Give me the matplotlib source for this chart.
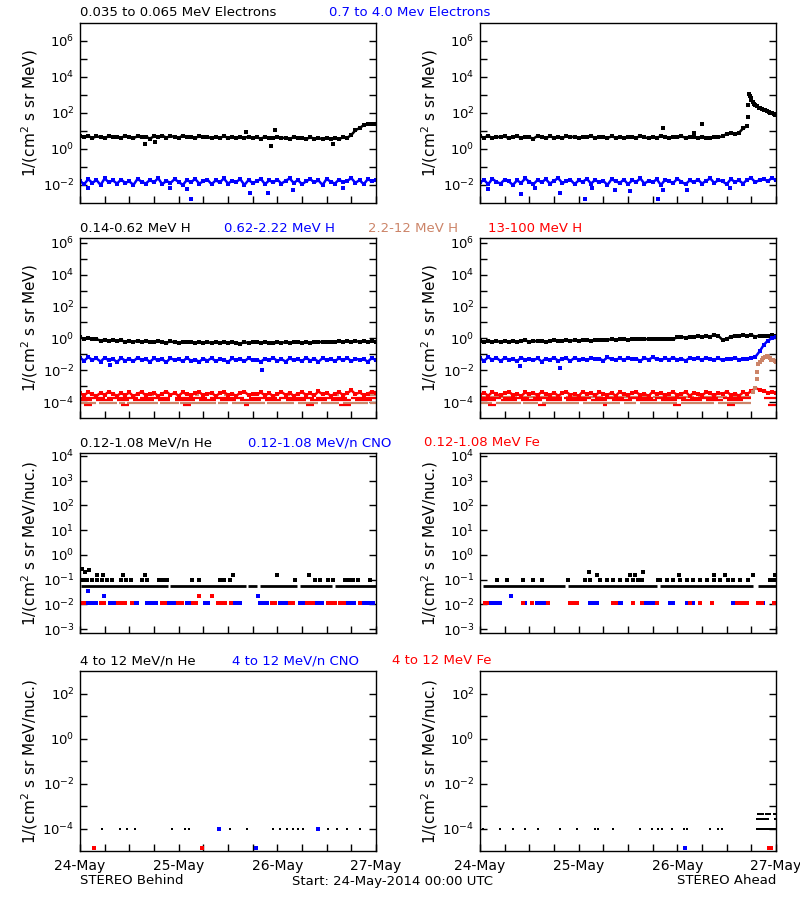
import numpy as np
import matplotlib
matplotlib.use("Agg")
import matplotlib.pyplot as plt

plt.rcParams['font.family'] = 'DejaVu Sans'
plt.rcParams['mathtext.fontset'] = 'dejavusans'

BLUE = '#0000FF'
RED = '#FF0000'
SIENNA = '#CC8468'

# ---------------- data (hours since 24-May-2014 00:00 UTC) ----------------
# Row 1: electrons, hourly samples
e_lo_behind = [5.6, 4.4, 5.2, 4.1, 5.0, 4.6, 3.9, 5.3, 4.5, 4.9,
               4.2, 5.4, 4.7, 4.0, 5.1, 4.4, 4.8, 3.8, 5.0, 4.6,
               5.5, 4.3, 5.2, 4.7, 4.1, 5.6, 4.5, 4.9, 4.2, 5.0,
               4.4, 4.8, 3.9, 4.6, 4.2, 5.0, 4.3, 4.7, 3.9, 4.5,
               4.1, 4.9, 4.0, 4.4, 3.8, 4.7, 4.2, 3.9, 4.6, 4.0,
               4.3, 3.7, 4.5, 3.9, 4.2, 3.6, 4.4, 3.8, 4.1, 3.5,
               4.3, 3.7, 4.0, 3.6, 4.4, 4.2, 6.0, 11.0, 14.5, 21.0,
               26.0, 24.0, 25.0]
e_hi_behind = [0.017, 0.011, 0.021, 0.013, 0.019, 0.010, 0.023, 0.014, 0.018, 0.012,
               0.020, 0.013, 0.016, 0.010, 0.022, 0.015, 0.012, 0.019, 0.014, 0.024,
               0.011, 0.017, 0.013, 0.021, 0.015, 0.010, 0.019, 0.014, 0.022, 0.012,
               0.016, 0.020, 0.011, 0.018, 0.014, 0.023, 0.012, 0.017, 0.015, 0.021,
               0.010, 0.019, 0.013, 0.016, 0.022, 0.011, 0.018, 0.014, 0.020, 0.012,
               0.017, 0.023, 0.013, 0.019, 0.011, 0.016, 0.021, 0.014, 0.018, 0.010,
               0.022, 0.015, 0.012, 0.020, 0.014, 0.017, 0.024, 0.013, 0.019, 0.011,
               0.021, 0.016, 0.018]
e_lo_behind_out_t = [15.8, 18.3, 40.4, 46.5, 47.5, 61.6]
e_lo_behind_out_v = [1.9, 2.5, 9.2, 1.5, 11.0, 2.0]
e_hi_behind_out_t = [2.0, 21.9, 26.0, 27.0, 41.4, 45.8, 51.9, 64.0]
e_hi_behind_out_v = [0.0066, 0.0066, 0.006, 0.0016, 0.0035, 0.0035, 0.005, 0.007]

e_lo_ahead = [5.0, 4.3, 5.4, 4.0, 4.8, 4.5, 5.2, 3.9, 4.7, 5.1,
              4.2, 4.9, 4.4, 3.8, 5.3, 4.6, 4.1, 5.0, 4.3, 4.8,
              4.0, 5.2, 4.5, 4.9, 3.9, 4.7, 4.4, 5.1, 4.2, 4.6,
              4.8, 4.1, 5.0, 4.3, 4.7, 3.9, 4.5, 4.9, 4.2, 5.3,
              4.4, 4.0, 4.8, 4.3, 5.1, 4.6, 3.9, 4.7, 4.4, 5.0,
              4.2, 4.8, 4.5, 4.1, 4.9, 4.3, 4.0, 4.6, 4.4, 5.2,
              6.8, 7.5, 6.9, 8.0, 14.0, 19.0]
e_lo_ahead_evt_t = [65.5, 65.6, 65.8, 66.0, 66.3, 66.6, 67.0, 67.4, 67.8, 68.2, 68.6,
                    69.0, 69.4, 69.8, 70.2, 70.6, 71.0, 71.4, 71.8, 72.0]
e_lo_ahead_evt_v = [1100, 900, 700, 560, 420, 330, 270, 230, 200, 180, 165,
                    150, 138, 125, 115, 105, 97, 88, 80, 77]
e_lo_ahead_out_t = [65.1, 65.3, 44.5, 52.0, 54.0]
e_lo_ahead_out_v = [280, 60, 15, 8, 24]
e_hi_ahead = [0.014, 0.019, 0.011, 0.022, 0.015, 0.012, 0.020, 0.016, 0.010, 0.018,
              0.013, 0.023, 0.015, 0.011, 0.019, 0.014, 0.021, 0.012, 0.017, 0.024,
              0.013, 0.016, 0.020, 0.011, 0.018, 0.015, 0.022, 0.012, 0.019, 0.014,
              0.017, 0.010, 0.021, 0.016, 0.013, 0.020, 0.011, 0.018, 0.015, 0.023,
              0.012, 0.017, 0.014, 0.021, 0.010, 0.019, 0.016, 0.013, 0.022, 0.015,
              0.011, 0.018, 0.014, 0.020, 0.012, 0.017, 0.023, 0.013, 0.019, 0.016,
              0.011, 0.021, 0.015, 0.018, 0.012, 0.020, 0.024, 0.014, 0.019, 0.022,
              0.016, 0.025, 0.018]
e_hi_ahead_out_t = [2.0, 10.0, 13.4, 19.5, 25.6, 27.2, 32.9, 36.5, 43.4, 44.6, 50.3, 60.8]
e_hi_ahead_out_v = [0.006, 0.0032, 0.0066, 0.0035, 0.0016, 0.007, 0.005, 0.0045,
                    0.0016, 0.005, 0.0055, 0.0066]

# Row 2: protons, hourly samples
h1_behind = [1.15, 0.95, 1.1, 0.85, 0.9, 0.72, 0.82, 0.68, 0.78, 0.65,
             0.74, 0.62, 0.7, 0.6, 0.72, 0.58, 0.68, 0.62, 0.55, 0.66,
             0.6, 0.53, 0.64, 0.57, 0.52, 0.63, 0.55, 0.6, 0.5, 0.58,
             0.54, 0.61, 0.49, 0.57, 0.52, 0.6, 0.5, 0.56, 0.53, 0.47,
             0.58, 0.51, 0.55, 0.6, 0.5, 0.57, 0.53, 0.48, 0.56, 0.52,
             0.59, 0.5, 0.55, 0.61, 0.53, 0.58, 0.52, 0.6, 0.56, 0.63,
             0.55, 0.62, 0.58, 0.66, 0.6, 0.64, 0.57, 0.68, 0.61, 0.65,
             0.59, 0.67, 0.63]
h2_behind = [0.06, 0.04, 0.065, 0.045, 0.055, 0.035, 0.06, 0.042, 0.05, 0.033,
             0.058, 0.04, 0.052, 0.036, 0.062, 0.044, 0.05, 0.034, 0.055, 0.041,
             0.048, 0.032, 0.057, 0.043, 0.05, 0.036, 0.06, 0.039, 0.047, 0.034,
             0.053, 0.04, 0.058, 0.037, 0.049, 0.044, 0.033, 0.055, 0.042, 0.05,
             0.036, 0.058, 0.041, 0.047, 0.034, 0.054, 0.043, 0.06, 0.038, 0.05,
             0.035, 0.056, 0.042, 0.048, 0.037, 0.061, 0.04, 0.052, 0.034, 0.057,
             0.044, 0.05, 0.038, 0.055, 0.041, 0.06, 0.036, 0.053, 0.045, 0.049,
             0.035, 0.058, 0.042]
h2_behind_out_t = [7.3, 44.2]
h2_behind_out_v = [0.02, 0.011]
h4_behind = [3.5e-4, 2.6e-4, 4.2e-4, 3.0e-4, 2.4e-4, 3.8e-4, 2.8e-4, 4.5e-4, 3.2e-4, 2.5e-4,
             3.6e-4, 2.7e-4, 4.0e-4, 2.3e-4, 3.3e-4, 4.4e-4, 2.6e-4, 3.1e-4, 3.9e-4, 2.4e-4,
             3.4e-4, 4.6e-4, 2.8e-4, 3.7e-4, 2.5e-4, 4.1e-4, 3.0e-4, 2.7e-4, 3.6e-4, 4.3e-4,
             2.6e-4, 3.2e-4, 3.9e-4, 2.4e-4, 3.5e-4, 4.2e-4, 2.9e-4, 3.3e-4, 2.5e-4, 3.8e-4,
             4.5e-4, 2.7e-4, 3.4e-4, 3.0e-4, 4.0e-4, 2.6e-4, 3.6e-4, 2.4e-4, 3.1e-4, 4.4e-4,
             2.8e-4, 3.7e-4, 2.5e-4, 3.3e-4, 4.1e-4, 2.9e-4, 3.5e-4, 2.6e-4, 4.7e-4, 3.0e-4,
             3.8e-4, 2.5e-4, 3.2e-4, 4.3e-4, 2.7e-4, 3.6e-4, 5.5e-4, 3.1e-4, 4.0e-4, 2.8e-4,
             3.4e-4, 4.6e-4, 3.9e-4]
# quantized count levels drawn as dashes: (start, end) hours
h4_behind_l1 = [(0, 6), (6.5, 14), (14.5, 22), (23, 31), (31.5, 40), (41, 48), (48.5, 57), (57.5, 65), (66, 72)]
h4_behind_l2 = [(0, 3), (4, 8), (9, 12), (13, 18), (19, 22), (23, 28), (29, 33), (34, 38), (39, 44),
                (45, 49), (50, 55), (56, 60), (61, 66), (67, 71)]
h4_behind_l3 = [(1, 3), (10, 12), (25, 27), (40, 41), (55, 57), (63, 66)]
h3_behind_l1 = [(3, 4.5), (8, 9), (17, 18), (28, 29), (35, 36), (50, 51), (62, 63), (70, 72)]
h3_behind_l2 = [(0, 4), (4.5, 9), (9.5, 11), (11.5, 19), (19.5, 24), (24.3, 33), (33.5, 36), (37, 45),
                (45.5, 52), (53, 58), (58.5, 63), (64, 70), (70.5, 72)]

h1_ahead = [0.68, 0.6, 0.72, 0.62, 0.7, 0.58, 0.66, 0.63, 0.71, 0.6,
            0.67, 0.74, 0.62, 0.69, 0.65, 0.72, 0.6, 0.7, 0.76, 0.66,
            0.73, 0.8, 0.7, 0.77, 0.72, 0.82, 0.75, 0.7, 0.79, 0.84,
            0.76, 0.81, 0.88, 0.78, 0.85, 0.92, 0.83, 0.9, 0.86, 0.95,
            0.88, 0.93, 0.85, 0.97, 0.9, 0.87, 0.95, 0.91, 1.15, 1.25,
            1.1, 1.3, 1.2, 1.35, 1.22, 1.45, 1.3, 1.6, 1.4, 0.8,
            0.9, 1.3, 1.5, 1.35, 1.55, 1.4, 1.6, 1.3, 1.5, 1.45,
            1.38, 1.55, 1.45]
h2_ahead = [0.055, 0.04, 0.065, 0.045, 0.06, 0.038, 0.058, 0.047, 0.052, 0.036,
            0.062, 0.044, 0.05, 0.041, 0.057, 0.035, 0.053, 0.046, 0.06, 0.04,
            0.049, 0.055, 0.038, 0.061, 0.045, 0.052, 0.042, 0.058, 0.048, 0.054,
            0.04, 0.063, 0.05, 0.045, 0.057, 0.043, 0.06, 0.048, 0.052, 0.039,
            0.058, 0.046, 0.064, 0.05, 0.042, 0.056, 0.047, 0.061, 0.045, 0.053,
            0.04, 0.059, 0.048, 0.055, 0.043, 0.062, 0.05, 0.046, 0.057, 0.041,
            0.054, 0.048, 0.06, 0.045, 0.052, 0.05, 0.055, 0.07, 0.15, 0.38,
            0.72, 1.0, 1.3]
h2_ahead_out_t = [9.7, 19.5]
h2_ahead_out_v = [0.018, 0.014]
h3_ahead_evt_t = [66.5, 66.9, 67.3, 67.4, 67.7, 68.1, 68.5, 68.9, 69.3, 69.7, 70.1, 70.5,
                  70.9, 71.3, 71.7, 72.0]
h3_ahead_evt_v = [4e-4, 7.5e-4, 2.9e-3, 7.8e-3, 0.023, 0.035, 0.047, 0.06, 0.072, 0.075,
                  0.072, 0.06, 0.047, 0.042, 0.036, 0.035]
h4_ahead = [2.9e-4, 3.8e-4, 2.5e-4, 4.3e-4, 3.1e-4, 2.6e-4, 3.6e-4, 4.5e-4, 2.8e-4, 3.3e-4,
            2.4e-4, 4.0e-4, 3.0e-4, 3.7e-4, 2.6e-4, 4.4e-4, 3.2e-4, 2.7e-4, 3.9e-4, 2.5e-4,
            3.5e-4, 4.2e-4, 2.9e-4, 3.3e-4, 2.4e-4, 4.6e-4, 3.0e-4, 3.7e-4, 2.6e-4, 4.1e-4,
            3.4e-4, 2.8e-4, 3.9e-4, 2.5e-4, 4.3e-4, 3.1e-4, 2.7e-4, 3.6e-4, 4.0e-4, 2.9e-4,
            3.3e-4, 2.4e-4, 4.5e-4, 3.0e-4, 3.8e-4, 2.6e-4, 3.4e-4, 4.2e-4, 2.8e-4, 3.2e-4,
            4.4e-4, 2.5e-4, 3.7e-4, 3.0e-4, 2.7e-4, 4.1e-4, 3.5e-4, 2.6e-4, 3.9e-4, 3.1e-4,
            4.6e-4, 2.8e-4, 3.4e-4, 2.5e-4, 4.0e-4, 3.3e-4, 4.8e-4, 7.5e-4, 6.0e-4, 5.2e-4,
            3.8e-4, 4.5e-4, 3.6e-4]
h4_ahead_l1 = [(0, 5), (5.5, 12), (13, 20), (20.5, 27), (28, 35), (36, 42), (42.5, 50), (51, 58), (59, 66), (69, 72)]
h4_ahead_l2 = [(0, 4), (5, 9), (10, 15), (16, 20), (21, 26), (27, 31), (32, 37), (38, 43), (44, 48),
               (49, 54), (55, 59), (60, 64)]
h4_ahead_l3 = [(2, 4), (14, 16), (30, 31), (47, 49), (60, 62), (70, 72)]
h3_ahead_l1 = [(0, 9), (9.5, 20), (21, 30), (31, 41), (42, 52), (53, 60), (61, 66)]
h3_ahead_l2 = [(0, 3), (4, 10), (10.5, 14), (15, 24), (25, 34), (35, 38), (39, 48), (49, 57), (58, 66)]

# Row 3: 0.12-1.08 MeV/n heavy ions
he_lo_behind_seg = [(0.3, 21.3), (21.9, 40.3), (40.9, 43.1), (43.7, 52.8), (53.4, 61.4), (62.0, 72)]
he_lo_behind_v = 0.055
he_mid_behind_t = [0.8, 1.8, 2.8, 4.1, 5.3, 6.5, 7.7, 9.9, 11.2, 12.3, 15.0, 16.2, 19.1, 20.3, 21.1,
                   27.2, 29.0, 34.1, 35.0, 36.5, 52.3, 57.2, 58.4, 60.4, 61.6, 64.5, 65.5, 66.5,
                   67.7, 70.6]
he_mid_v = 0.1
he_hi_behind_t = [0.6, 1.3, 2.1, 4.1, 5.7, 10.5, 15.8, 37.3, 47.9, 55.6]
he_hi_behind_v = [0.27, 0.2, 0.25, 0.15, 0.15, 0.15, 0.15, 0.15, 0.15, 0.15]
cno_behind_t = [1.7, 2.5, 3.3, 4.0, 7.4, 8.0, 8.8, 13.0, 13.8, 16.2, 17.0, 17.8, 18.6, 21.5, 22.3,
                23.2, 26.0, 26.8, 30.4, 31.2, 37.3, 38.1, 39.0, 43.8, 44.6, 45.4, 48.7, 49.5,
                50.3, 53.5, 54.3, 57.2, 58.0, 58.8, 65.0, 65.8, 66.6, 68.9, 69.7, 70.5, 71.3]
fe_behind_t = [0.4, 1.0, 5.1, 5.9, 9.3, 10.1, 10.9, 12.6, 19.9, 20.7, 23.9, 24.7, 27.5, 28.3, 33.6,
               34.4, 35.2, 36.8, 46.6, 47.4, 51.1, 51.9, 55.1, 55.9, 56.7, 60.4, 61.2, 62.0,
               63.3, 64.1, 68.1]
cno_fe_v = 0.011
cno_behind_hi_t = [2.0, 5.8, 43.2]
cno_behind_hi_v = [0.035, 0.022, 0.022]
fe_behind_hi_t = [29.0, 32.1]
fe_behind_hi_v = [0.022, 0.022]

he_lo_ahead_seg = [(0.8, 20.7), (21.5, 43.0), (43.8, 66.5), (67.7, 72)]
he_lo_ahead_v = 0.055
he_mid_ahead_t = [4.1, 6.5, 10.5, 12.9, 15.0, 21.5, 25.5, 26.8, 29.2, 30.8, 32.4, 34.1, 35.7, 37.3,
                  38.5, 39.3, 43.4, 43.8, 45.4, 47.0, 48.7, 50.3, 51.9, 53.5, 55.1, 56.8, 58.4,
                  60.4, 61.6, 63.3, 65.3, 70.6, 71.4]
he_hi_ahead_t = [26.4, 28.4, 36.5, 37.7, 39.7, 48.3, 56.8, 59.6, 66.5, 71.8]
he_hi_ahead_v = [0.2, 0.15, 0.15, 0.15, 0.2, 0.15, 0.15, 0.15, 0.15, 0.15]
cno_ahead_t = [2.4, 3.2, 4.1, 4.9, 10.9, 13.8, 14.6, 15.4, 16.2, 26.8, 27.6, 28.4, 32.8, 33.6, 34.4,
               40.1, 40.9, 41.7, 42.6, 46.2, 47.0, 50.3, 51.1, 51.9, 53.5, 61.6, 68.1, 68.9]
fe_ahead_t = [1.2, 1.8, 10.4, 12.6, 16.6, 21.9, 22.7, 23.5, 32.4, 33.2, 37.3, 39.3, 43.0, 51.1,
              53.5, 56.4, 62.5, 63.3, 64.1, 64.9, 67.7, 68.5, 71.4]
cno_ahead_hi_t = [7.5]
cno_ahead_hi_v = [0.022]

# Row 4: 4-12 MeV/n heavy ions
he4_behind_t = [5.3, 9.7, 11.4, 13.4, 22.3, 25.5, 26.4, 36.5, 40.6, 47.0, 48.7, 50.3, 51.9,
                53.1, 54.3, 60.4, 62.5, 64.9, 68.1]
he4_v = 1e-4
cno4_behind_t = [33.7, 58.0, 42.7]
cno4_behind_v = [1e-4, 1e-4, 1.3e-5]
fe4_behind_t = [3.5, 29.6]
fe4_behind_v = [1.3e-5, 1.3e-5]

he4_ahead_t = [0.8, 4.9, 8.1, 10.9, 14.2, 19.5, 23.5, 28.0, 28.8, 32.4, 38.9, 41.8, 43.4, 44.2,
               46.6, 49.5, 50.3, 56.0, 58.0, 58.8, 67.3, 67.7, 68.1, 68.5, 68.9, 69.3, 69.7,
               70.1, 70.5, 70.9, 71.3, 71.7]
he4_ahead_hi_t = [67.7, 68.1, 68.5, 68.9, 69.5, 70.1, 70.5, 71.5, 71.9, 67.3, 67.7, 68.1, 68.5,
                  68.9, 69.3, 69.7, 70.1, 71.7]
he4_ahead_hi_v = [4.5e-4, 4.5e-4, 4.5e-4, 4.5e-4, 4.5e-4, 4.5e-4, 4.5e-4, 4.5e-4, 4.5e-4,
                  2.7e-4, 2.7e-4, 2.7e-4, 2.7e-4, 2.7e-4, 2.7e-4, 2.7e-4, 2.7e-4, 2.7e-4]
cno4_ahead_t = [49.9]
cno4_ahead_v = [1.3e-5]
fe4_ahead_t = [70.4, 70.8]
fe4_ahead_v = [1.3e-5, 1.3e-5]

day_labels = ['24-May', '25-May', '26-May', '27-May']

# ---------------- helpers ----------------
def band(ax, vals, color, t0=0):
    t = np.arange(len(vals)) + t0
    ax.plot(t, vals, '-', color=color, lw=1.8, marker='s', ms=2.6, mew=0)

def dots(ax, t, v, color, ms=2.2):
    ax.plot(t, np.broadcast_to(v, np.shape(t)), 's', color=color, ms=ms, mew=0, ls='none')

def dashes(ax, segs, level, color, lw=1.6):
    for a, b in segs:
        ax.plot([a, b], [level, level], '-', color=color, lw=lw, solid_capstyle='butt')

def setup(ax, ylo, yhi, decades, labeled, ylabel, bottom=False):
    ax.set_yscale('log')
    ax.set_ylim(ylo, yhi)
    ax.set_xlim(0, 72)
    ax.yaxis.set_major_locator(matplotlib.ticker.FixedLocator([10.0 ** d for d in decades]))
    ax.yaxis.set_minor_locator(matplotlib.ticker.NullLocator())
    ax.yaxis.set_major_formatter(matplotlib.ticker.FixedFormatter(
        ['10$^{%d}$' % d if d in labeled else '' for d in decades]))
    ax.xaxis.set_major_locator(matplotlib.ticker.FixedLocator([0, 24, 48, 72]))
    ax.xaxis.set_minor_locator(matplotlib.ticker.FixedLocator(np.arange(0, 73, 6)))
    if bottom:
        ax.set_xticklabels(day_labels)
    else:
        ax.set_xticklabels([])
    ax.tick_params(axis='both', which='both', direction='in', length=5, width=1,
                   right=True, top=False, labelsize=9.5, pad=4)
    ax.tick_params(axis='x', pad=6, labelsize=10)
    ax.set_ylabel(ylabel, fontsize=11)
    ax.yaxis.set_label_coords(-0.135, 0.5)
    for s in ax.spines.values():
        s.set_linewidth(1)

# ---------------- figure ----------------
fig = plt.figure(figsize=(8, 9), dpi=100)
W, H = 800.0, 900.0
lefts = [80, 480]
tops = [23, 238, 453, 671]
axes = [[fig.add_axes([l / W, 1 - (t + 180) / H, 296 / W, 180 / H]) for l in lefts] for t in tops]

lab1 = '1/(cm$^2$ s sr MeV)'
lab2 = '1/(cm$^2$ s sr MeV/nuc.)'

# row 1
for ax, lo, hi in [(axes[0][0], e_lo_behind, e_hi_behind), (axes[0][1], e_lo_ahead, e_hi_ahead)]:
    band(ax, lo, 'black')
    band(ax, hi, BLUE)
    setup(ax, 1e-3, 1e7, range(-2, 7), [-2, 0, 2, 4, 6], lab1)
dots(axes[0][0], e_lo_behind_out_t, e_lo_behind_out_v, 'black')
dots(axes[0][0], e_hi_behind_out_t, e_hi_behind_out_v, BLUE)
axes[0][1].plot(e_lo_ahead_evt_t, e_lo_ahead_evt_v, '-', color='black', lw=1.4, marker='s', ms=2.4, mew=0)
dots(axes[0][1], e_lo_ahead_out_t, e_lo_ahead_out_v, 'black')
dots(axes[0][1], e_hi_ahead_out_t, e_hi_ahead_out_v, BLUE)

# row 2
ax = axes[1][0]
dashes(ax, h3_behind_l1, 2.9e-4, SIENNA)
dashes(ax, h3_behind_l2, 8.7e-5, SIENNA)
dashes(ax, h4_behind_l1, 1.7e-4, RED)
dashes(ax, h4_behind_l2, 1.3e-4, RED)
dashes(ax, h4_behind_l3, 6.5e-5, RED)
band(ax, h4_behind, RED)
band(ax, h1_behind, 'black')
band(ax, h2_behind, BLUE)
dots(ax, h2_behind_out_t, h2_behind_out_v, BLUE)
setup(ax, 1e-5, 2e6, range(-4, 7), [-4, -2, 0, 2, 4, 6], lab1)

ax = axes[1][1]
dashes(ax, h3_ahead_l1, 2.0e-4, SIENNA)
dashes(ax, h3_ahead_l2, 8.7e-5, SIENNA)
dashes(ax, h4_ahead_l1, 1.7e-4, RED)
dashes(ax, h4_ahead_l2, 1.3e-4, RED)
dashes(ax, h4_ahead_l3, 6.5e-5, RED)
band(ax, h4_ahead, RED)
ax.plot(h3_ahead_evt_t, h3_ahead_evt_v, 's', color=SIENNA, ms=2.8, mew=0)
band(ax, h1_ahead, 'black')
band(ax, h2_ahead, BLUE)
dots(ax, h2_ahead_out_t, h2_ahead_out_v, BLUE)
setup(ax, 1e-5, 2e6, range(-4, 7), [-4, -2, 0, 2, 4, 6], lab1)

# row 3
ax = axes[2][0]
dashes(ax, he_lo_behind_seg, he_lo_behind_v, 'black', lw=2)
dots(ax, he_mid_behind_t, he_mid_v, 'black')
dots(ax, he_hi_behind_t, he_hi_behind_v, 'black')
dots(ax, cno_behind_t, cno_fe_v, BLUE, ms=2.6)
dots(ax, fe_behind_t, cno_fe_v, RED, ms=2.6)
dots(ax, cno_behind_hi_t, cno_behind_hi_v, BLUE)
dots(ax, fe_behind_hi_t, fe_behind_hi_v, RED)
setup(ax, 7e-4, 1.3e4, range(-3, 5), range(-3, 5), lab2)

ax = axes[2][1]
dashes(ax, he_lo_ahead_seg, he_lo_ahead_v, 'black', lw=2)
dots(ax, he_mid_ahead_t, he_mid_v, 'black')
dots(ax, he_hi_ahead_t, he_hi_ahead_v, 'black')
dots(ax, cno_ahead_t, cno_fe_v, BLUE, ms=2.6)
dots(ax, fe_ahead_t, cno_fe_v, RED, ms=2.6)
dots(ax, cno_ahead_hi_t, cno_ahead_hi_v, BLUE)
setup(ax, 7e-4, 1.3e4, range(-3, 5), range(-3, 5), lab2)

# row 4
ax = axes[3][0]
dots(ax, he4_behind_t, he4_v, 'black', ms=1.8)
dots(ax, cno4_behind_t, cno4_behind_v, BLUE)
dots(ax, fe4_behind_t, fe4_behind_v, RED)
setup(ax, 1e-5, 1e3, range(-4, 3), [-4, -2, 0, 2], lab2, bottom=True)

ax = axes[3][1]
dots(ax, he4_ahead_t, he4_v, 'black', ms=1.8)
dots(ax, he4_ahead_hi_t, he4_ahead_hi_v, 'black', ms=1.8)
dots(ax, cno4_ahead_t, cno4_ahead_v, BLUE)
dots(ax, fe4_ahead_t, fe4_ahead_v, RED)
setup(ax, 1e-5, 1e3, range(-4, 3), [-4, -2, 0, 2], lab2, bottom=True)

# ---------------- titles / footer ----------------
def ftext(x, y, s, color='black', ha='left', size=9.5):
    fig.text(x / W, 1 - y / H, s, color=color, ha=ha, va='center', fontsize=size)

ftext(80, 13, '0.035 to 0.065 MeV Electrons')
ftext(329, 13, '0.7 to 4.0 Mev Electrons', BLUE)
ftext(80, 229, '0.14-0.62 MeV H')
ftext(224, 229, '0.62-2.22 MeV H', BLUE)
ftext(368, 229, '2.2-12 MeV H', SIENNA)
ftext(488, 229, '13-100 MeV H', RED)
ftext(80, 443, '0.12-1.08 MeV/n He')
ftext(248, 443, '0.12-1.08 MeV/n CNO', BLUE)
ftext(424, 443, '0.12-1.08 MeV Fe', RED)
ftext(80, 661, '4 to 12 MeV/n He')
ftext(232, 661, '4 to 12 MeV/n CNO', BLUE)
ftext(392, 661, '4 to 12 MeV Fe', RED)
ftext(80, 881, 'STEREO Behind')
ftext(292, 881, 'Start: 24-May-2014 00:00 UTC')
ftext(776, 881, 'STEREO Ahead', ha='right')

fig.savefig('out.png', dpi=100)
